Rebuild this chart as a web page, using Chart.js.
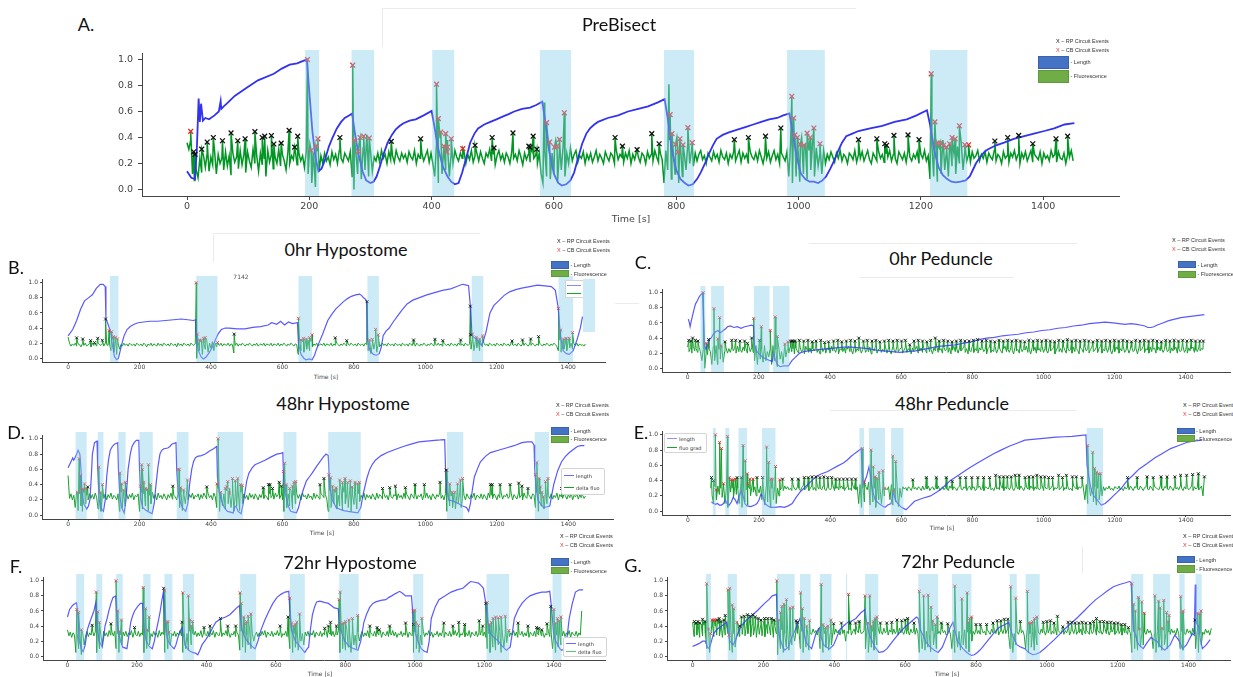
<!DOCTYPE html>
<html>
<head>
<meta charset="utf-8">
<script src="https://cdn.jsdelivr.net/npm/chart.js@4.4.0/dist/chart.umd.min.js"></script>
<style>
  body { margin: 0; width: 1233px; height: 677px; background: #fff; position: relative; overflow: hidden; font-family: Lato, sans-serif; }
  canvas { position: absolute; }
  .t { position: absolute; white-space: nowrap; transform: translate(-50%, -50%); color: #111; }
  .l { position: absolute; white-space: nowrap; transform: translate(0, -50%); color: #333; font-family: 'Liberation Sans', sans-serif; font-size: 5.5px; }
  .box { position: absolute; }
  .title { font-size: 18px; }
  .tx { font-family: 'DejaVu Sans', sans-serif; color: #444; }
</style>
</head>
<body>
<script>
// ===================== DATA =====================
const xTickVals = [0, 200, 400, 600, 800, 1000, 1200, 1400];
const yTickVals = [0, 0.2, 0.4, 0.6, 0.8, 1.0];

// ---------- A. PreBisect ----------
const aSpans = [[193,216],[269,306],[401,437],[577,628],[780,829],[981,1043],[1215,1276]];
const aLength = [[0,.14],[7,.09],[13,.08],[16,.3],[19,.7],[21,.52],[23,.66],[26,.53],[30,.55],[36,.54],[45,.57],[52,.6],[55,.68],[56,.62],[60,.64],[65,.66],[78,.72],[97,.78],[116,.84],[142,.89],[155,.93],[168,.96],[180,.97],[190,.99],[196,1],
  [200,.75],[205,.45],[210,.25],[215,.14],[220,.16],[225,.22],[232,.33],[238,.4],[245,.47],[252,.52],[258,.55],[265,.57],[270,.585],
  [274,.45],[280,.28],[287,.14],[293,.07],[300,.05],[305,.06],[310,.1],[315,.17],[322,.28],[328,.36],[335,.42],[341,.46],[348,.49],[354,.51],[364,.53],[374,.54],[387,.57],[400,.605],
  [404,.5],[410,.33],[418,.18],[426,.1],[432,.06],[438,.04],[444,.05],[450,.13],[457,.25],[463,.36],[470,.43],[476,.47],[486,.5],[496,.52],[506,.54],[516,.56],[526,.58],[535,.6],[548,.62],[561,.63],[571,.65],[581,.675],
  [585,.55],[592,.3],[600,.12],[607,.05],[613,.03],[620,.04],[627,.07],[633,.13],[640,.25],[646,.35],[653,.43],[659,.47],[666,.5],[672,.52],[688,.55],[705,.57],[721,.6],[738,.62],[754,.64],[770,.67],[781,.695],
  [786,.55],[793,.3],[800,.15],[807,.08],[814,.05],[820,.03],[827,.04],[834,.08],[840,.13],[847,.2],[853,.27],[860,.34],[866,.39],[876,.42],[886,.44],[900,.46],[913,.48],[926,.5],[939,.52],[952,.54],[965,.55],[975,.57],[985,.585],
  [990,.45],[997,.25],[1004,.12],[1011,.08],[1018,.06],[1025,.06],[1032,.05],[1039,.07],[1045,.1],[1052,.16],[1058,.22],[1065,.3],[1071,.36],[1078,.41],[1088,.43],[1098,.45],[1117,.47],[1137,.49],[1157,.52],[1177,.54],[1193,.57],[1210,.61],
  [1215,.5],[1222,.3],[1229,.17],[1236,.11],[1243,.08],[1250,.06],[1257,.055],[1265,.06],[1273,.07],[1280,.1],[1285,.15],[1290,.2],[1297,.25],[1304,.29],[1310,.31],[1323,.34],[1336,.36],[1352,.39],[1369,.41],[1385,.43],[1402,.45],[1418,.47],[1435,.5],[1451,.51]];
const aFluoStart = 0, aFluoStep = 3;
const aFluo = [.36,.31,.38,.12,.07,.15,.09,.24,.13,.26, .17,.28,.14,.25,.19,.3,.12,.27,.2,.24, .15,.29,.18,.26,.11,.28,.21,.25,.16,.3,
  .19,.27,.13,.29,.22,.17,.31,.2,.26,.14, .28,.19,.24,.1,.3,.21,.27,.16,.25,.2, .31,.18,.27,.22,.15,.29,.2,.26,.23,.3,
  .19,.28,.22,.26,.17,.29,.12,.35,.05,.28, .02,.3,.14,.26,.2,.28,.22,.25,.19,.29, .23,.27,.2,.3,.24,.21,.28,.25,.22,.29,
  .1,0,.3,.12,.38,.08,.32,.15,.42,.1, .3,.14,.25,.22,.28,.21,.3,.24,.27,.2, .29,.23,.26,.21,.3,.25,.22,.28,.24,.27,
  .21,.29,.25,.23,.3,.2,.27,.24,.28,.22, .26,.3,.21,.28,.2,.1,.35,.05,.4,.12, .32,.15,.38,.1,.28,.2,.3,.25,.22,.28,
  .24,.29,.2,.27,.23,.3,.21,.26,.28,.22, .29,.24,.2,.28,.25,.31,.22,.27,.19,.26, .3,.23,.27,.21,.28,.25,.2,.29,.24,.27,
  .22,.3,.25,.19,.28,.23,.27,.21,.29,.24, .26,.2,.28,.12,.05,.3,.1,.35,.08,.28, .12,.38,.06,.3,.15,.33,.1,.28,.2,.32,
  .22,.27,.3,.21,.26,.24,.29,.2,.27,.23, .28,.21,.25,.3,.22,.27,.24,.2,.29,.25, .22,.28,.26,.2,.3,.23,.27,.25,.21,.28,
  .24,.3,.2,.27,.23,.29,.25,.21,.28,.26, .2,.29,.24,.27,.22,.3,.25,.21,.28,.23, .05,.3,.15,.38,.08,.3,.12,.4,.05,.33,
  .1,.28,.15,.36,.2,.3,.18,.28,.22,.27, .3,.23,.26,.2,.28,.25,.22,.29,.24,.27, .21,.3,.25,.23,.28,.2,.27,.24,.29,.22,
  .26,.3,.21,.28,.24,.27,.2,.29,.25,.23, .28,.22,.3,.25,.2,.27,.24,.29,.21,.26, .3,.23,.27,.2,.28,.25,.22,.29,.1,.35,
  .05,.38,.1,.32,.06,.4,.12,.35,.08,.3, .15,.36,.1,.32,.18,.28,.12,.3,.2,.27, .23,.29,.25,.21,.28,.24,.3,.22,.27,.25,
  .2,.28,.26,.23,.3,.21,.27,.24,.29,.22, .26,.3,.23,.2,.28,.25,.22,.29,.24,.27, .21,.28,.25,.3,.22,.27,.24,.2,.29,.26,
  .23,.28,.21,.3,.25,.22,.27,.24,.29,.2, .27,.24,.3,.22,.26,.08,.35,.1,.4,.06, .32,.12,.38,.15,.3,.1,.35,.18,.28,.12,
  .33,.2,.36,.15,.3,.22,.27,.21,.29,.24, .26,.3,.22,.27,.24,.29,.21,.28,.25,.23, .3,.22,.27,.25,.2,.29,.24,.26,.21,.28,
  .25,.3,.23,.27,.2,.28,.24,.29,.22,.26, .3,.21,.27,.25,.23,.29,.2,.28,.24,.26, .22,.3,.25,.27,.21,.29,.24,.23,.28,.2,
  .27,.25,.3,.22];
const aPeaks = [[584,.67],[788,.81]];
const aRp = [[11,.29],[13,.27],[24,.31],[33,.365],[43,.4],[58,.375],[72,.435],[83,.375],[95,.39],[111,.445],[123,.4],[127,.41],[138,.415],[142,.35],[154,.357],[167,.455],[176,.326],[181,.41],[250,.4],[334,.37],[382,.39],[471,.34],[499,.4],[502,.32],[533,.435],[559,.334],[561,.326],[566,.41],[572,.31],[700,.4],[712,.334],[736,.306],[760,.43],[772,.352],[895,.383],[918,.4],[946,.41],[971,.473],[1098,.383],[1128,.39],[1141,.352],[1144,.34],[1156,.416],[1179,.42],[1197,.383],[1321,.373],[1342,.4],[1360,.416],[1383,.352],[1421,.39],[1440,.41]];
const aCb = [[6,.447],[197,1],[203,.3],[211,.334],[214,.39],[271,.956],[274,.378],[280,.293],[283,.4],[289,.41],[298,.396],[408,.81],[411,.545],[415,.442],[420,.334],[423,.43],[425,.288],[426,.326],[432,.39],[451,.314],[588,.514],[593,.365],[601,.326],[605,.334],[609,.386],[617,.59],[790,.576],[793,.43],[799,.347],[803,.288],[806,.39],[811,.344],[819,.476],[826,.36],[989,.717],[992,.55],[994,.42],[998,.4],[1003,.347],[1009,.34],[1014,.434],[1019,.4],[1025,.473],[1035,.352],[1217,.89],[1223,.52],[1227,.357],[1232,.357],[1237,.34],[1242,.326],[1247,.352],[1251,.4],[1256,.39],[1263,.49],[1272,.344],[1278,.344]];

// ---------- B. 0hr Hypostome ----------
const bSpans = [[117,141],[359,418],[645,683],[838,870],[1130,1162],[1373,1414]];
const bLength = [[0,.295],[13,.38],[24,.5],[35,.65],[46,.76],[57,.8],[68,.84],[79,.925],[90,.98],[98,.98],[104,.95],[106,.52],[112,.45],[119,.35],[125,.15],[130,.02],[136,-.02],[141,0],[146,.1],[151,.2],[157,.3],[165,.38],[174,.42],[185,.45],[196,.47],[212,.48],[229,.49],[250,.49],[273,.5],[295,.51],[317,.52],[335,.51],[351,.5],[357,.51],
  [359,.3],[365,.1],[372,.02],[379,-.01],[387,.02],[396,.08],[404,.15],[413,.25],[421,.33],[429,.38],[440,.4],[451,.4],[473,.39],[495,.39],[517,.41],[539,.42],[560,.44],[570,.47],[584,.45],[595,.49],[606,.44],[617,.48],[628,.46],[642,.47],
  [645,.2],[652,.05],[660,0],[666,-.02],[675,-.01],[683,-.02],[690,.04],[694,.1],[702,.2],[711,.3],[719,.4],[727,.5],[738,.58],[749,.65],[760,.7],[771,.75],[782,.79],[793,.82],[805,.84],[816,.85],[822,.83],[827,.8],[833,.78],[836,.75],
  [838,.25],[845,.1],[855,.05],[863,.04],[871,.06],[877,.15],[882,.3],[890,.36],[899,.4],[910,.48],[921,.55],[935,.64],[949,.72],[965,.77],[982,.8],[1004,.84],[1026,.87],[1048,.9],[1071,.92],[1088,.95],[1104,.98],[1115,.97],[1121,.96],
  [1126,.7],[1131,.3],[1138,.27],[1145,.25],[1152,.2],[1157,.17],[1162,.22],[1170,.35],[1181,.6],[1192,.7],[1203,.75],[1220,.83],[1236,.88],[1253,.91],[1270,.93],[1292,.95],[1314,.97],[1335,.96],[1353,.95],[1364,.9],
  [1372,.67],[1378,.3],[1386,.1],[1395,.06],[1403,.05],[1414,.1],[1425,.25],[1434,.4],[1440,.55]];
const bFluoStart = 0, bFluoStep = 4;
const bFluo = [.28,.2,.16,.19,.17,.2,.16,.19,.18,.15, .19,.17,.2,.16,.18,.19,.15,.2,.17,.19, .16,.2,.18,.17,.19,.16,.2,.18,.17,.19,
  .1,.25,.08,.22,.05,.2,.12,.18,.16,.2, .17,.19,.16,.2,.18,.17,.19,.16,.2,.18, .17,.19,.16,.2,.18,.15,.19,.17,.2,.16,
  .19,.18,.16,.2,.17,.19,.16,.2,.18,.17, .19,.16,.2,.18,.17,.19,.15,.2,.17,.19, .16,.2,.18,.17,.19,.16,.2,.18,.17,.19,
  0,.22,.1,.25,.05,.2,.12,.24,.08,.2, .13,.22,.1,.2,.15,.19,.17,.2,.16,.19, .18,.17,.2,.16,.19,.18,.07,.17,.2,.16,
  .19,.17,.2,.18,.16,.19,.17,.2,.18,.16, .19,.17,.2,.16,.18,.19,.17,.2,.16,.19, .18,.17,.2,.16,.19,.18,.17,.2,.16,.19,
  .17,.2,.18,.16,.19,.17,.2,.18,.16,.19, .18,.05,.24,.1,.22,.08,.2,.12,.24,.1, .22,.15,.19,.17,.2,.16,.18,.19,.17,.2,
  .16,.19,.18,.17,.2,.16,.19,.17,.2,.18, .16,.19,.17,.2,.18,.16,.19,.17,.2,.18, .17,.19,.16,.2,.18,.17,.19,.16,.2,.18,
  .1,.22,.06,.2,.12,.22,.08,.19,.15,.18, .2,.17,.19,.16,.2,.18,.17,.19,.16,.2, .18,.17,.19,.16,.2,.18,.17,.19,.16,.2,
  .18,.17,.19,.16,.2,.18,.16,.19,.17,.2, .18,.16,.19,.17,.2,.18,.16,.19,.17,.2, .17,.19,.16,.2,.18,.17,.19,.16,.2,.18,
  .17,.19,.16,.2,.18,.17,.19,.16,.2,.18, .17,.19,.12,.25,.1,.22,.14,.24,.1,.2, .15,.2,.17,.19,.16,.2,.18,.17,.19,.16,
  .2,.18,.17,.19,.16,.2,.18,.17,.19,.16, .2,.18,.17,.19,.16,.2,.18,.16,.19,.17, .2,.18,.16,.19,.17,.2,.18,.16,.19,.17,
  .2,.18,.16,.19,.17,.2,.18,.16,.19,.17, .2,.18,.16,.1,.24,.08,.22,.12,.2,.1, .22,.14,.2,.12,.19,.17,.2,.16,.19,.17,
  .18,.16,.19];
const bRp = [[24,.27],[41,.255],[63,.233],[74,.207],[83,.264],[96,.238],[105,.52],[465,.32],[748,.27],[780,.233],[837,.75],[967,.242],[1027,.25],[1049,.233],[1099,.242],[1126,.69],[1127,.31],[1243,.229],[1272,.242],[1295,.255],[1317,.286]];
const bCb = [[115,.366],[122,.352],[127,.286],[133,.278],[138,.255],[359,1],[362,.32],[368,.242],[373,.229],[379,.264],[384,.273],[418,.207],[645,.53],[652,.242],[659,.264],[667,.255],[676,.273],[683,.31],[844,.242],[852,.25],[861,.383],[868,.31],[1132,.32],[1143,.278],[1152,.255],[1160,.295],[1373,.66],[1379,.374],[1387,.255],[1394,.264],[1403,.264],[1412,.34]];

// ---------- C. 0hr Peduncle ----------
const cSpans = [[36,50],[66,102],[186,230],[240,286]];
const cLength = [[2,.65],[5,.6],[7,.55],[10,.62],[13,.68],[18,.78],[22,.85],[28,.9],[33,.95],[38,.98],[42,1],[45,.6],[47,.3],[52,.25],[56,.3],[60,.38],[66,.4],[72,.45],[78,.48],[85,.5],[92,.47],[100,.5],[106,.52],[112,.55],[120,.56],[130,.54],[140,.55],[150,.53],[160,.55],[170,.56],[180,.57],[185,.56],
  [188,.3],[195,.22],[203,.18],[212,.14],[222,.12],[232,.1],[238,.09],[242,.2],[246,.12],[252,.05],[260,.02],[270,.03],[283,.03],[293,.1],[304,.15],[315,.2],[326,.22],[340,.23],[357,.24],[373,.25],[395,.26],[417,.27],[440,.28],[462,.28],[485,.27],[507,.26],[530,.24],[551,.23],[573,.22],[596,.21],[618,.22],[640,.23],[662,.25],[684,.27],[706,.29],[729,.3],[751,.31],[773,.33],[796,.35],[818,.38],[840,.4],[862,.41],[885,.43],[907,.44],[929,.45],[951,.47],[973,.48],[995,.5],[1018,.51],[1040,.53],[1062,.54],[1084,.56],[1106,.57],[1129,.59],[1151,.6],[1173,.61],[1196,.6],[1212,.59],[1229,.58],[1246,.59],[1262,.58],[1275,.57],[1285,.56],[1293,.54],[1302,.54],[1310,.55],[1318,.57],[1335,.6],[1352,.63],[1369,.65],[1386,.67],[1402,.68],[1419,.69],[1436,.7],[1452,.71]];
const cFluoStart = 0, cFluoStep = 4;
const cFluo = [.28,.22,.27,.2,.29,.23,.26,.21,.28,.22, .1,.25,0,.2,.18,.26,.22,.05,.28,.1, .3,.05,.25,.12,.28,.08,.22,.27,.2,.26,
  .21,.28,.23,.26,.2,.29,.22,.25,.21,.28, .23,.26,.2,.29,.22,.27,.21,.1,.3,.05, .28,.12,.25,.08,.3,.1,.22,.15,.26,.05,
  .3,.1,.25,.02,.28,.12,.22,.06,.26,.15, .25,.2,.28,.22,.26,.19,.27,.23,.2,.28, .22,.25,.19,.29,.24,.21,.27,.2,.26,.23,
  .28,.21,.25,.19,.3,.22,.26,.2,.27,.24, .2,.29,.23,.25,.21,.28,.19,.26,.24,.22, .27,.2,.25,.29,.22,.24,.19,.28,.21,.26,
  .23,.27,.2,.25,.3,.21,.24,.22,.28,.19, .26,.23,.29,.2,.24,.27,.21,.25,.22,.28, .2,.26,.23,.19,.28,.24,.21,.29,.22,.25,
  .27,.2,.24,.28,.21,.26,.23,.19,.27,.22, .25,.29,.2,.23,.27,.21,.26,.24,.2,.28, .22,.25,.19,.27,.23,.29,.21,.24,.26,.2,
  .28,.23,.25,.21,.27,.19,.24,.29,.22,.26, .2,.27,.23,.25,.28,.21,.26,.19,.24,.22, .29,.21,.26,.23,.2,.27,.24,.28,.22,.25,
  .19,.26,.28,.21,.24,.22,.29,.2,.25,.27, .23,.2,.26,.29,.22,.25,.21,.27,.24,.19, .28,.23,.25,.2,.27,.22,.26,.24,.29,.21,
  .25,.19,.27,.23,.28,.2,.24,.26,.22,.29, .21,.26,.24,.2,.28,.23,.25,.27,.19,.24, .28,.22,.26,.21,.29,.24,.2,.27,.23,.25,
  .2,.28,.22,.26,.24,.19,.27,.25,.21,.29, .23,.26,.2,.25,.28,.22,.24,.27,.21,.26, .29,.2,.25,.23,.27,.21,.28,.24,.19,.26,
  .22,.28,.25,.2,.26,.23,.29,.21,.24,.27, .2,.25,.28,.22,.24,.26,.19,.27,.23,.25, .29,.21,.26,.24,.2,.28,.22,.25,.27,.2,
  .24,.28,.23,.26,.21,.25,.29,.22,.24,.2, .27,.23,.25,.28,.2,.26,.22,.24,.29,.21, .25,.2,.27,.23,.26,.28,.21,.24,.22,.27,
  .23,.26,.25];
const cRp = [[3,.37],[9,.36],[14,.4],[22,.37],[29,.36],[59,.38],[105,.35],[124,.37],[135,.37],[147,.36],[160,.36],[168,.33],[180,.4],[202,.37],
  [289,.36],[293,.36],[297,.36],[302,.36],[314,.37],[326,.36],[338,.37],[350,.35],[361,.36],[374,.37],[385,.34],[396,.35],[410,.36],[422,.37],[433,.35],[446,.36],[458,.37],[470,.36],[481,.4],[494,.36],[505,.37],[518,.36],[529,.37],[540,.35],[553,.36],[565,.37],[577,.36],[589,.37],[601,.36],[612,.37],[624,.31],[636,.36],[648,.37],[660,.36],[672,.35],[683,.37],[696,.4],[707,.36],[719,.37],[731,.36],[743,.35],[755,.36],[767,.37],[779,.36],[791,.36],[803,.37],[815,.38],[827,.36],[839,.37],[851,.36],[863,.35],[875,.37],[887,.36],[899,.37],[911,.36],[923,.37],[935,.36],[947,.35],[959,.37],[971,.36],[983,.37],[995,.36],[1007,.37],[1019,.36],[1031,.35],[1043,.37],[1055,.36],[1067,.38],[1079,.36],[1091,.37],[1103,.36],[1115,.37],[1127,.36],[1139,.35],[1151,.37],[1163,.36],[1175,.37],[1187,.36],[1199,.37],[1211,.36],[1223,.37],[1235,.36],[1247,.35],[1259,.37],[1271,.36],[1283,.37],[1295,.36],[1307,.37],[1319,.36],[1331,.35],[1343,.37],[1355,.36],[1367,.37],[1379,.36],[1391,.37],[1403,.36],[1415,.37],[1427,.36],[1439,.36],[1449,.36]];
const cCb = [[44,1],[52,.33],[74,.79],[85,.39],[90,.67],[94,.3],[186,.66],[207,.55],[232,.5],[246,.68],[252,.42],[273,.32],[282,.35]];

// ---------- D. 48hr Hypostome ----------
const dSpans = [[21,52],[83,99],[141,161],[200,237],[304,337],[418,490],[603,639],[728,819],[1060,1106],[1306,1346]];
const dLength = [[0,.62],[8,.7],[13,.75],[16,.72],[20,.76],[24,.8],[28,.85],[33,.8],[36,.6],[39,.3],[44,.15],[52,.08],[57,.12],[61,.2],[65,.5],[68,.8],[74,.95],[81,.97],[83,.6],[87,.2],[91,.1],[99,.05],[104,.2],[108,.5],[113,.72],[118,.85],[124,.9],[130,.93],[139,.95],
  [141,.6],[145,.25],[150,.1],[157,.03],[162,.2],[168,.6],[174,.8],[179,.9],[185,.95],[191,.98],[198,.98],[200,.6],[204,.2],[209,.1],[216,.07],[223,.05],[235,.02],[241,.15],[246,.4],[252,.65],[257,.8],[262,.85],[268,.87],[279,.88],[285,.9],[290,.93],[302,.95],
  [304,.6],[308,.3],[312,.2],[320,.1],[329,.05],[335,.15],[340,.4],[346,.6],[351,.7],[356,.75],[362,.77],[373,.78],[384,.8],[396,.84],[407,.87],[416,.9],[418,.5],[423,.3],[429,.2],[437,.1],[446,.05],[454,.04],[462,.03],[466,.1],[470,.12],[476,.05],[484,.02],[490,.15],[495,.3],[500,.45],[506,.55],[515,.62],[523,.66],[537,.69],[551,.72],[567,.76],[584,.8],[595,.81],[601,.82],
  [603,.5],[607,.3],[612,.2],[618,.1],[623,.05],[631,.04],[639,.03],[645,.1],[650,.2],[658,.33],[667,.45],[675,.5],[683,.55],[694,.63],[705,.7],[714,.76],[722,.8],[728,.78],[732,.4],[739,.2],[745,.15],[750,.1],[760,.08],[772,.06],[783,.05],[797,.04],[811,.03],[819,.1],[827,.3],[836,.48],[844,.6],[852,.67],[860,.72],[876,.78],[893,.82],[915,.86],[938,.9],[960,.93],[982,.96],[1004,.97],[1026,.98],[1042,.985],[1054,.99],
  [1057,.5],[1061,.3],[1065,.2],[1072,.19],[1080,.18],[1093,.15],[1104,.12],[1115,.1],[1121,.05],[1126,.15],[1132,.35],[1137,.5],[1145,.6],[1154,.7],[1168,.77],[1182,.82],[1204,.85],[1226,.88],[1248,.91],[1270,.95],[1285,.96],[1298,.96],[1304,.92],
  [1306,.6],[1310,.35],[1315,.2],[1323,.14],[1331,.1],[1340,.11],[1348,.12],[1353,.25],[1359,.4],[1370,.58],[1381,.7],[1392,.77],[1403,.82],[1414,.86],[1425,.9],[1435,.91],[1445,.91]];
const dFluoStart = 0, dFluoStep = 4;
const dFluo = [.52,.22,.28,.2,.26,.1,.3,.06,.28,.12, .05,.3,.15,.26,.2,.28,.22,.27,.21,.29, .23,.08,.3,.05,.25,.22,.28,.2,.27,.23,
  .29,.21,.26,.24,.2,.28,.05,.3,.1,.26, .12,.28,.21,.27,.23,.29,.2,.26,.24,.28, .05,.3,.08,.28,.12,.32,.06,.26,.15,.3,
  .22,.27,.2,.29,.23,.26,.21,.28,.24,.2, .27,.23,.29,.21,.26,.24,.2,.28,.1,.3, .06,.28,.15,.32,.2,.27,.23,.29,.21,.26,
  .24,.28,.2,.27,.22,.29,.25,.21,.28,.23, .26,.2,.29,.24,.1,.35,.05,.3,.12,.28, .08,.32,.15,.35,.1,.3,.05,.28,.12,.33,
  .06,.3,.15,.28,.22,.26,.2,.29,.23,.27, .21,.28,.24,.2,.27,.23,.29,.22,.26,.24, .2,.28,.23,.26,.21,.29,.24,.27,.22,.26,
  .2,.05,.3,.1,.28,.12,.32,.08,.26,.15, .28,.22,.27,.2,.29,.24,.26,.21,.28,.23, .25,.2,.29,.22,.27,.24,.21,.28,.26,.23,
  .27,.21,.05,.32,.1,.28,.15,.3,.08,.26, .12,.34,.06,.3,.15,.28,.1,.32,.05,.27, .14,.3,.08,.28,.18,.26,.22,.29,.2,.27,
  .23,.26,.21,.28,.24,.2,.29,.22,.27,.25, .21,.28,.23,.26,.2,.29,.24,.22,.27,.25, .2,.28,.23,.26,.21,.29,.22,.27,.24,.2,
  .28,.25,.22,.29,.21,.26,.24,.28,.2,.27, .23,.29,.22,.26,.2,.28,.25,.21,.27,.24, .29,.22,.26,.2,.28,.05,.3,.12,.25,.1,
  .28,.08,.26,.15,.3,.1,.22,.26,.2,.28, .24,.21,.27,.23,.29,.2,.26,.25,.22,.28, .21,.27,.24,.2,.29,.23,.26,.22,.28,.25,
  .2,.27,.23,.29,.21,.26,.24,.28,.22,.25, .29,.2,.27,.24,.21,.28,.23,.26,.2,.29, .24,.22,.27,.25,.21,.28,.26,.1,.3,.05,
  .28,.12,.25,.08,.3,.15,.26,.22,.28,.21, .26,.23,.29,.2,.27,.24,.22,.28,.25,.21, .27,.23,.29,.2,.26,.24,.28,.21,.27,.23,
  .26,.22,.25];
const dRp = [[55,.37],[293,.38],[388,.37],[546,.36],[561,.4],[565,.4],[572,.35],[591,.43],[597,.38],[705,.4],[716,.48],[880,.35],[900,.36],[916,.38],[944,.36],[971,.4],[997,.4],[1041,.43],[1058,.59],[1182,.4],[1187,.4],[1209,.4],[1237,.4],[1261,.42],[1270,.38],[1287,.35],[1381,.35],[1436,.37]];
const dCb = [[26,.3],[31,.74],[35,.52],[38,.34],[42,.34],[46,.41],[50,.35],[86,.63],[90,.3],[96,.4],[145,.55],[150,.41],[155,.33],[160,.43],[203,.38],[206,.66],[208,.6],[212,.43],[217,.35],[222,.34],[225,.66],[230,.4],[308,.6],[311,.6],[315,.36],[323,.33],[334,.46],[417,.41],[420,1],[427,.3],[440,.35],[444,.37],[447,.44],[452,.29],[460,.48],[468,.45],[475,.48],[482,.4],[487,.39],[603,.57],[606,.68],[610,.4],[620,.35],[628,.38],[632,.43],[637,.44],[730,.53],[735,.49],[740,.38],[745,.33],[750,.36],[760,.46],[768,.43],[775,.48],[782,.43],[790,.45],[795,.37],[803,.43],[810,.41],[815,.43],[1060,.59],[1068,.41],[1075,.3],[1082,.3],[1090,.41],[1098,.46],[1104,.48],[1308,.53],[1312,.69],[1318,.48],[1322,.37],[1326,.3],[1330,.24],[1336,.44],[1343,.48]];

// ---------- E. 48hr Peduncle ----------
const eSpans = [[70,78],[105,116],[142,166],[208,246],[482,495],[509,554],[571,606],[1121,1167]];
const eLength = [[66,.12],[72,.1],[78,.09],[83,.1],[88,.08],[94,.08],[100,.1],[105,.15],[110,.1],[116,.08],[122,.12],[127,.18],[133,.15],[138,.1],[144,.2],[150,.27],[155,.2],[160,.1],[166,.07],[177,.06],[188,.08],[194,.1],[200,.15],[205,.22],[210,.2],[216,.1],[224,.07],[232,.05],[245,.05],[260,.06],[271,.05],[282,.07],[293,.1],[304,.18],[315,.25],[326,.3],[337,.35],[348,.4],[360,.45],[371,.48],[382,.5],[393,.52],[404,.55],[420,.59],[437,.63],[448,.67],[459,.72],[470,.76],[482,.8],[487,.82],
  [490,.5],[493,.35],[497,.4],[502,.45],[509,.58],[515,.4],[520,.25],[526,.15],[537,.1],[546,.07],[554,.05],[562,.08],[571,.1],[577,.25],[583,.15],[590,.1],[600,.05],[609,.03],[613,.02],[620,.05],[637,.13],[660,.17],[682,.2],[700,.25],[715,.3],[726,.35],[737,.4],[754,.45],[770,.5],[792,.57],[814,.63],[836,.69],[858,.75],[880,.8],[903,.85],[925,.89],[947,.93],[969,.94],[991,.95],[1013,.96],[1035,.97],[1058,.975],[1080,.98],[1100,.99],[1119,1],
  [1122,.6],[1127,.45],[1133,.3],[1141,.2],[1150,.15],[1162,.08],[1173,.1],[1185,.15],[1196,.2],[1207,.25],[1218,.3],[1235,.4],[1251,.47],[1268,.55],[1290,.62],[1313,.7],[1335,.76],[1357,.82],[1380,.86],[1402,.9],[1424,.92],[1446,.93]];
const eFluoStart = 64, eFluoStep = 4;
const eFluo = [.3,.2,.1,.32,.15,.33,.22,.3,.18,.33, .1,.3,.05,.32,.25,.3,.18,.33,.22,.3, .1,.32,.05,.3,.12,.28,.08,.3,.2,.33,
  .25,.32,.2,.3,.24,.33,.15,.3,.08,.32, .12,.35,.05,.3,.15,.33,.1,.3,.2,.28, .31,.27,.33,.29,.32,.28,.3,.27,.33,.29,
  .28,.32,.3,.27,.31,.33,.28,.3,.32,.27, .3,.33,.28,.31,.27,.32,.29,.3,.28,.33, .29,.27,.32,.3,.28,.31,.33,.27,.3,.32,
  .28,.3,.33,.29,.27,.31,.32,.28,.3,.27, .33,.29,.28,.32,.1,.35,.05,.3,.12,.32, .28,.38,.08,.35,.12,.3,.05,.33,.15,.3,
  .1,.32,.2,.3,.28,.32,.15,.35,.08,.3, .12,.33,.06,.3,.18,.32,.29,.31,.27,.32, .3,.27,.33,.29,.31,.28,.32,.3,.27,.33,
  .28,.31,.29,.33,.27,.3,.32,.28,.31,.29, .33,.27,.3,.32,.28,.31,.29,.27,.33,.3, .28,.32,.3,.27,.31,.33,.29,.28,.32,.3,
  .27,.31,.33,.28,.3,.32,.27,.29,.31,.33, .28,.3,.27,.32,.31,.29,.33,.28,.3,.27, .32,.29,.31,.28,.33,.3,.27,.32,.29,.31,
  .28,.33,.3,.27,.31,.32,.29,.28,.33,.3, .27,.32,.31,.29,.28,.33,.3,.27,.32,.29, .31,.28,.3,.33,.27,.32,.29,.31,.28,.3,
  .33,.27,.31,.29,.32,.28,.3,.33,.27,.31, .29,.32,.28,.3,.27,.33,.31,.29,.28,.32, .3,.33,.29,.15,.35,.1,.33,.2,.3,.12,
  .32,.08,.3,.15,.28,.2,.32,.27,.31,.29, .33,.28,.3,.27,.32,.31,.29,.33,.28,.3, .27,.32,.29,.31,.28,.33,.3,.27,.32,.31,
  .29,.28,.33,.3,.27,.31,.32,.29,.28,.33, .3,.27,.32,.31,.29,.28,.33,.3,.27,.32, .31,.29,.28,.33,.3,.27,.32,.29,.31,.28,
  .33,.3,.27,.32,.29,.31,.28,.3,.33,.27, .32,.29,.31,.28,.3,.33,.2];
const eRp = [[66,.44],[72,.4],[138,.44],[150,.44],[194,.44],[210,.44],[266,.42],[293,.42],[310,.42],[327,.44],[338,.44],[349,.45],[360,.45],[371,.44],[382,.45],[393,.44],[404,.44],[415,.42],[426,.42],[437,.42],[448,.42],[460,.42],[471,.42],[632,.41],[670,.44],[698,.44],[726,.44],[743,.39],[765,.44],[781,.44],[798,.44],[815,.44],[831,.44],[848,.44],[865,.47],[876,.45],[887,.45],[898,.45],[909,.45],[920,.47],[931,.47],[948,.44],[959,.45],[970,.45],[981,.47],[992,.45],[1003,.45],[1014,.44],[1025,.44],[1042,.47],[1053,.44],[1064,.47],[1081,.45],[1092,.45],[1108,.44],[1236,.44],[1263,.44],[1291,.45],[1308,.44],[1330,.45],[1347,.45],[1369,.45],[1385,.47],[1402,.47],[1419,.48],[1435,.49],[1452,.45]];
const eCb = [[77,1],[79,.28],[89,.9],[94,.82],[100,.36],[111,.98],[116,.44],[122,.41],[127,.41],[133,.42],[155,.86],[161,.66],[166,.49],[168,.36],[174,.42],[183,.42],[221,.84],[227,.64],[233,.42],[238,.42],[246,.585],[258,.41],[490,.82],[496,.38],[515,.8],[521,.58],[526,.45],[532,.43],[537,.51],[548,.53],[552,.3],[576,.72],[578,.26],[584,.65],[1124,.86],[1138,.77],[1143,.56],[1149,.51],[1155,.49],[1160,.49]];

// ---------- F. 72hr Hypostome ----------
const fSpans = [[25,48],[83,100],[140,159],[218,239],[279,302],[332,364],[497,543],[640,683],[782,838],[995,1024],[1206,1271],[1396,1422]];
const fLength = [[0,.52],[6,.62],[11,.65],[16,.68],[22,.7],[26,.71],[29,.6],[31,.5],[34,.2],[40,.1],[45,.06],[51,.15],[57,.35],[62,.42],[68,.5],[76,.6],[82,.72],[84,.5],[88,.3],[91,.2],[100,.12],[104,.25],[108,.4],[114,.5],[119,.6],[125,.7],[131,.78],[139,.8],
  [141,.6],[144,.4],[148,.3],[154,.18],[159,.12],[171,.1],[176,.25],[182,.45],[187,.53],[193,.6],[202,.66],[210,.7],[216,.7],[219,.5],[222,.3],[227,.2],[235,.13],[244,.1],[250,.2],[256,.35],[262,.48],[267,.6],[272,.75],[276,.85],
  [279,.6],[284,.3],[290,.2],[296,.15],[302,.12],[307,.1],[312,.15],[318,.25],[324,.33],[330,.38],[333,.3],[338,.15],[345,.1],[352,.07],[360,.05],[369,.04],[375,.02],[381,.08],[387,.15],[398,.22],[409,.3],[418,.38],[427,.45],[436,.48],[444,.5],[455,.52],[467,.55],[478,.6],[489,.65],[495,.67],
  [498,.5],[502,.35],[506,.3],[514,.22],[523,.17],[531,.13],[540,.1],[548,.2],[557,.35],[568,.48],[580,.6],[591,.7],[603,.78],[614,.82],[626,.85],[637,.86],[640,.6],[644,.4],[648,.3],[656,.2],[665,.15],[674,.1],[683,.05],[690,.1],[694,.12],[699,.35],[705,.55],[711,.65],[717,.72],[726,.73],[734,.72],[742,.71],[751,.7],[760,.67],[768,.64],[779,.63],
  [782,.5],[786,.35],[790,.3],[798,.2],[807,.15],[815,.12],[824,.1],[836,.08],[844,.2],[853,.45],[861,.56],[870,.65],[879,.7],[887,.72],[902,.74],[916,.75],[925,.78],[933,.8],[944,.83],[956,.86],[965,.83],[973,.8],[982,.8],[990,.8],
  [995,.5],[1001,.3],[1010,.18],[1018,.1],[1026,.07],[1035,.05],[1041,.2],[1047,.5],[1058,.65],[1069,.75],[1087,.8],[1104,.85],[1121,.88],[1138,.9],[1150,.95],[1160,.99],[1172,.98],[1183,.97],[1192,.93],[1197,.9],[1204,.7],[1210,.45],[1217,.3],[1228,.25],[1240,.2],[1252,.13],[1263,.08],[1274,.12],[1280,.3],[1286,.5],[1297,.62],[1308,.7],[1320,.76],[1331,.8],[1348,.83],[1365,.85],[1377,.85],[1388,.86],
  [1394,.6],[1399,.3],[1405,.2],[1411,.15],[1417,.1],[1422,.08],[1433,.1],[1439,.3],[1444,.5],[1453,.7],[1462,.85],[1473,.88],[1484,.88]];
const fFluoStart = 0, fFluoStep = 4;
const fFluo = [.35,.27,.32,.25,.31,.28,.05,.3,.1,.28, .02,.3,.15,.27,.33,.26,.31,.28,.34,.27, .32,.05,.3,.1,.28,.15,.33,.27,.31,.26,
  .34,.28,.32,.27,.33,.1,.3,.05,.28,.15, .32,.27,.33,.26,.31,.28,.34,.25,.32,.29, .27,.33,.26,.31,.28,.05,.3,.1,.32,.15,
  .3,.26,.33,.28,.31,.25,.34,.27,.32,.29, .05,.32,.1,.28,.15,.3,.27,.33,.26,.31, .28,.34,.27,.05,.32,.1,.3,.08,.33,.15,
  .3,.28,.33,.26,.31,.27,.34,.25,.32,.29, .27,.33,.26,.31,.28,.34,.25,.32,.29,.27, .33,.26,.31,.28,.34,.27,.32,.25,.3,.28,
  .33,.26,.31,.28,.08,.33,.12,.3,.05,.28, .15,.35,.1,.3,.2,.28,.32,.26,.31,.27, .33,.28,.34,.25,.32,.29,.27,.33,.26,.31,
  .28,.34,.27,.32,.25,.3,.28,.33,.26,.31, .1,.33,.05,.3,.12,.35,.08,.28,.2,.3, .15,.32,.27,.33,.26,.31,.28,.34,.25,.32,
  .29,.27,.33,.26,.31,.28,.34,.25,.32,.29, .27,.33,.26,.31,.28,.34,.05,.32,.1,.28, .08,.35,.12,.3,.05,.33,.15,.28,.1,.32,
  .2,.28,.33,.26,.31,.27,.34,.25,.32,.29, .27,.33,.26,.31,.28,.34,.25,.32,.29,.27, .33,.26,.31,.28,.34,.27,.32,.25,.3,.28,
  .33,.26,.31,.28,.34,.25,.32,.29,.27,.05, .32,.1,.3,.05,.28,.15,.33,.26,.31,.28, .34,.27,.32,.25,.3,.28,.33,.26,.31,.27,
  .34,.25,.32,.29,.27,.33,.26,.31,.28,.34, .27,.32,.25,.3,.28,.33,.26,.31,.27,.34, .25,.32,.29,.27,.33,.26,.31,.28,.34,.27,
  .32,.25,.1,.3,.05,.32,.12,.28,.08,.3, .15,.33,.05,.28,.12,.3,.18,.32,.26,.31, .28,.34,.27,.32,.25,.3,.28,.33,.26,.31,
  .27,.34,.25,.32,.29,.27,.33,.26,.31,.28, .34,.27,.32,.25,.3,.28,.33,.26,.31,.1, .3,.05,.28,.12,.32,.15,.27,.33,.26,.31,
  .28,.34,.25,.32,.29,.27,.33,.26,.31,.28, .6];
const fRp = [[71,.41],[125,.43],[193,.38],[277,.9],[330,.45],[393,.38],[410,.4],[440,.5],[461,.4],[484,.4],[612,.4],[635,.52],[740,.37],[751,.4],[757,.45],[774,.4],[870,.4],[891,.38],[897,.35],[927,.4],[973,.44],[996,.42],[1083,.44],[1109,.4],[1126,.45],[1143,.42],[1185,.47],[1195,.4],[1204,.7],[1297,.44],[1325,.4],[1350,.38],[1356,.37],[1365,.35],[1380,.43],[1391,.66]];
const fCb = [[27,.62],[32,.58],[40,.35],[83,.85],[87,.59],[92,.45],[140,1],[145,.6],[150,.33],[155,.48],[218,.91],[225,.63],[230,.35],[235,.52],[280,.87],[285,.45],[289,.46],[292,.32],[332,.84],[348,.8],[352,.48],[356,.4],[360,.46],[497,.84],[500,.7],[507,.52],[510,.43],[515,.46],[520,.53],[528,.56],[640,.77],[645,.44],[650,.4],[655,.42],[660,.45],[668,.56],[782,.75],[785,.85],[790,.43],[795,.44],[800,.46],[810,.48],[820,.5],[835,.54],[995,.6],[999,.61],[1003,.45],[1010,.41],[1020,.5],[1208,.71],[1215,.42],[1220,.45],[1225,.5],[1232,.52],[1240,.51],[1248,.52],[1260,.53],[1270,.34],[1400,.62],[1405,.44],[1410,.5],[1415,.47],[1420,.52]];

// ---------- G. 72hr Peduncle ----------
const gSpans = [[38,52],[99,125],[238,288],[303,333],[359,392],[433,436],[487,524],[637,693],[732,787],[895,915],[940,980],[1238,1272],[1300,1348],[1374,1389],[1420,1437]];
const gLength = [[0,.13],[10,.15],[19,.17],[28,.2],[36,.2],[42,.12],[47,.1],[52,.18],[59,.3],[70,.36],[82,.4],[90,.43],[97,.45],[100,.35],[105,.2],[114,.15],[120,.2],[128,.3],[137,.4],[150,.47],[170,.55],[186,.62],[203,.7],[215,.75],[225,.8],[237,.82],
  [240,.5],[244,.3],[249,.2],[255,.12],[260,.08],[270,.12],[280,.25],[290,.35],[298,.45],[303,.5],[308,.4],[314,.3],[320,.2],[325,.15],[336,.1],[342,.2],[348,.3],[355,.36],[359,.38],[363,.25],[370,.15],[378,.12],[387,.1],[398,.15],[407,.25],[415,.35],[426,.4],[438,.45],[450,.47],[461,.5],[470,.55],[476,.58],[487,.62],
  [491,.45],[498,.3],[507,.2],[515,.12],[526,.05],[538,.06],[549,.1],[565,.2],[582,.3],[598,.38],[615,.45],[632,.52],[637,.5],[643,.35],[648,.3],[660,.18],[671,.12],[682,.08],[693,.05],[705,.12],[716,.25],[727,.38],[735,.45],[740,.35],[748,.2],[755,.15],[763,.1],[772,.06],[780,.03],[787,.01],[795,.02],[804,.05],[815,.1],[832,.2],[849,.3],[865,.38],[882,.42],[893,.45],
  [898,.35],[905,.25],[916,.15],[927,.12],[938,.1],[949,.05],[960,.02],[970,.03],[980,.05],[993,.1],[1005,.15],[1021,.22],[1038,.3],[1055,.38],[1072,.45],[1088,.52],[1105,.6],[1122,.68],[1138,.75],[1155,.81],[1172,.87],[1188,.92],[1205,.95],[1220,.97],[1233,.99],[1238,.98],
  [1241,.6],[1245,.35],[1249,.3],[1255,.2],[1260,.15],[1272,.1],[1283,.18],[1294,.25],[1302,.22],[1311,.2],[1322,.12],[1333,.08],[1348,.15],[1361,.28],[1368,.24],[1374,.2],[1383,.1],[1394,.15],[1405,.25],[1411,.3],[1416,.28],[1419,.95],[1421,.45],[1428,.4],[1434,.2],[1439,.1],[1450,.15],[1461,.22]];
const gFluoStart = 0, gFluoStep = 4;
const gFluo = [.45,.26,.42,.28,.4,.25,.43,.27,.41,.3, .1,.35,.05,.3,.42,.26,.4,.28,.43,.27, .41,.25,.44,.28,.4,.3,.08,.35,.05,.3,
  .12,.28,.42,.26,.4,.29,.43,.27,.41,.3, .44,.26,.42,.28,.4,.25,.43,.29,.41,.27, .44,.26,.42,.3,.4,.28,.43,.25,.41,.3,
  .02,.33,.1,.35,.05,.3,.12,.36,.08,.3, .15,.32,.2,.34,.3,.36,.1,.33,.05,.3, .12,.35,.08,.3,.29,.36,.31,.34,.28,.37,
  .1,.35,.05,.3,.12,.33,.08,.3,.15,.32, .29,.36,.31,.34,.28,.37,.3,.35,.2,.33, .3,.35,.28,.33,.36,.29,.34,.31,.37,.3,
  .31,.34,.1,.35,.05,.3,.12,.33,.08,.3, .15,.36,.3,.33,.29,.37,.31,.34,.28,.35, .32,.29,.36,.3,.34,.28,.37,.31,.33,.29,
  .35,.3,.34,.28,.36,.31,.33,.29,.37,.3, .05,.35,.1,.3,.08,.33,.12,.3,.06,.34, .15,.32,.1,.3,.33,.29,.36,.31,.34,.28,
  .3,.35,.29,.1,.35,.05,.3,.12,.33,.08, .3,.15,.35,.1,.32,.06,.3,.2,.33,.29, .36,.3,.34,.29,.37,.31,.33,.28,.35,.32,
  .29,.36,.31,.34,.3,.37,.28,.33,.35,.3, .37,.3,.35,.29,.1,.33,.05,.3,.15,.32, .29,.36,.31,.34,.28,.1,.35,.05,.3,.12,
  .33,.08,.3,.15,.32,.29,.36,.31,.34,.28, .35,.31,.37,.29,.33,.3,.36,.28,.34,.32, .3,.36,.29,.34,.31,.37,.28,.33,.35,.3,
  .37,.29,.33,.31,.36,.28,.35,.3,.34,.32, .29,.36,.3,.33,.37,.28,.34,.31,.35,.29, .33,.37,.3,.35,.28,.34,.32,.36,.29,.31,
  .36,.3,.34,.28,.37,.31,.33,.29,.35,.3, .05,.33,.1,.3,.08,.35,.12,.3,.15,.32, .29,.36,.31,.34,.28,.1,.3,.05,.33,.12,
  .3,.08,.35,.15,.3,.1,.32,.29,.36,.31, .34,.28,.37,.3,.1,.33,.08,.3,.29,.36, .31,.34,.28,.37,.3,.1,.33,.05,.3,.15,
  .32,.29,.36,.31,.34,.28,.37];
const gRp = [[5,.46],[10,.44],[15,.46],[20,.44],[28,.49],[35,.46],[70,.48],[75,.5],[80,.46],[88,.48],[92,.54],[133,.4],[138,.52],[146,.53],[155,.55],[163,.53],[170,.55],[177,.52],[185,.5],[193,.48],[203,.5],[212,.5],[222,.5],[230,.48],[292,.47],[296,.45],[398,.43],[420,.44],[445,.44],[460,.44],[470,.46],[530,.44],[548,.44],[562,.45],[577,.48],[590,.47],[600,.48],[607,.5],[625,.44],[702,.44],[720,.43],[800,.42],[812,.42],[830,.42],[848,.44],[860,.47],[870,.47],[880,.49],[890,.49],[925,.46],[990,.45],[1000,.46],[1010,.47],[1020,.44],[1030,.53],[1045,.39],[1060,.45],[1070,.45],[1080,.44],[1090,.44],[1100,.45],[1110,.44],[1122,.44],[1132,.46],[1140,.5],[1150,.46],[1160,.46],[1170,.45],[1180,.45],[1190,.44],[1200,.44],[1210,.42],[1220,.42],[1230,.38],[1418,.48]];
const gCb = [[40,.96],[45,.36],[50,.3],[55,.48],[60,.48],[65,.48],[100,.88],[103,.28],[105,.9],[112,.68],[116,.63],[125,.45],[238,1],[243,.48],[248,.58],[252,.66],[258,.69],[265,.75],[275,.64],[283,.65],[305,.84],[310,.63],[315,.5],[322,.4],[330,.47],[363,.95],[368,.42],[375,.38],[382,.4],[390,.48],[440,.82],[487,.8],[495,.44],[500,.8],[505,.4],[510,.46],[515,.5],[520,.52],[640,.86],[652,.8],[665,.81],[673,.65],[678,.47],[685,.42],[690,.52],[740,.93],[760,.76],[775,.84],[778,.45],[782,.5],[787,.52],[898,.92],[912,.77],[945,.86],[950,.44],[955,.44],[960,.46],[965,.5],[972,.52],[1240,.96],[1245,.69],[1250,.6],[1258,.78],[1262,.36],[1268,.72],[1275,.57],[1305,.8],[1315,.73],[1320,.64],[1325,.37],[1330,.74],[1338,.58],[1342,.46],[1345,.54],[1378,.79],[1382,.58],[1385,.6],[1425,.57],[1430,.56],[1435,.6]];

// ===================== LAYOUT / DRAWING =====================
Chart.defaults.font.family = 'DejaVu Sans';
Chart.defaults.color = '#444';

// shaded contraction windows, drawn over the lines like axvspan
const spanPlugin = {
  id: 'spans',
  afterDatasetsDraw(chart, args, opts) {
    const { ctx, chartArea: a, scales: { x } } = chart;
    ctx.save();
    ctx.beginPath();
    ctx.rect(a.left, a.top - 3, a.right - a.left, a.bottom - a.top + 3);
    ctx.clip();
    ctx.fillStyle = 'rgba(135,206,235,0.42)';
    (opts.list || []).forEach(([s, e]) => {
      const x0 = x.getPixelForValue(s), x1 = x.getPixelForValue(e);
      ctx.fillRect(x0, a.top - 3, x1 - x0, a.bottom - a.top + 3);
    });
    ctx.restore();
  }
};

const pts = (arr) => arr.map(([x, y]) => ({ x, y }));

function fluoPoints(base, start, step, extra) {
  const out = base.map((v, i) => ({ x: start + i * step, y: v }));
  extra.forEach(([x, y]) => out.push({ x, y }));
  out.sort((p, q) => p.x - q.x);
  return out;
}

function makePanel(d, lay) {
  const big = !!lay.big;
  const yW = big ? 45 : 24, xH = big ? 20 : 10, padT = big ? 12 : 8, padR = 6;
  const [L, T, R, B] = lay.box.map(Math.round);
  const w = R - L + yW + padR, h = B - T + padT + xH;
  const cv = document.createElement('canvas');
  cv.width = w; cv.height = h;
  cv.style.left = (L - yW) + 'px';
  cv.style.top = (T - padT) + 'px';
  cv.style.width = w + 'px';
  cv.style.height = h + 'px';
  document.body.appendChild(cv);

  const fs = big ? 9.5 : 6;
  const mr = big ? 3.4 : 2.1;
  const mw = big ? 1.3 : 0.9;
  const blue = big ? 'rgb(50,50,240)' : 'rgba(60,60,255,0.85)';
  const green = big ? 'rgb(0,150,35)' : 'rgb(25,160,45)';
  const fluo = fluoPoints(d.fluo, d.f0, d.fStep, [...d.rp, ...d.cb, ...(d.peaks || [])]);

  new Chart(cv.getContext('2d'), {
    type: 'line',
    data: {
      datasets: [
        { data: pts(d.rp), showLine: false, pointStyle: 'crossRot', pointRadius: mr, pointBorderColor: '#111', pointBorderWidth: mw },
        { data: pts(d.cb), showLine: false, pointStyle: 'crossRot', pointRadius: mr, pointBorderColor: 'rgb(235,40,40)', pointBorderWidth: mw },
        { data: pts(d.len), borderColor: blue, borderWidth: big ? 1.8 : 1.2, pointRadius: 0, tension: 0 },
        { data: fluo, borderColor: green, borderWidth: big ? 1.5 : 1.0, pointRadius: 0, tension: 0 },
      ],
    },
    options: {
      responsive: false,
      animation: false,
      devicePixelRatio: 1,
      events: [],
      layout: { padding: { top: padT, right: padR, left: 0, bottom: 0 } },
      plugins: { legend: { display: false }, tooltip: { enabled: false }, spans: { list: d.spans } },
      scales: {
        x: {
          type: 'linear', min: lay.xMin, max: lay.xMax,
          border: { display: true, color: '#444', width: 1 },
          grid: { display: true, drawOnChartArea: false, drawTicks: true, tickLength: big ? 4 : 2, color: '#444' },
          ticks: { font: { size: fs }, color: '#444', padding: big ? 1 : 0, maxRotation: 0, autoSkip: false, callback: (v) => String(v) },
          afterBuildTicks: (s) => { s.ticks = xTickVals.map((v) => ({ value: v })); },
          afterFit: (s) => { s.height = xH; },
        },
        y: {
          min: -0.05, max: 1.05,
          border: { display: true, color: '#444', width: 1 },
          grid: { display: true, drawOnChartArea: false, drawTicks: true, tickLength: big ? 4 : 2, color: '#444' },
          ticks: { font: { size: fs }, color: '#444', padding: big ? 5 : 2, callback: (v) => Number(v).toFixed(1) },
          afterBuildTicks: (s) => { s.ticks = yTickVals.map((v) => ({ value: v })); },
          afterFit: (s) => { s.width = yW; },
        },
      },
    },
    plugins: [spanPlugin],
  });
}

makePanel({ len: aLength, fluo: aFluo, f0: aFluoStart, fStep: aFluoStep, peaks: aPeaks, rp: aRp, cb: aCb, spans: aSpans },
  { box: [142, 53, 1119, 196], xMin: -73.6, xMax: 1524, big: true });
makePanel({ len: bLength, fluo: bFluo, f0: bFluoStart, fStep: bFluoStep, rp: bRp, cb: bCb, spans: bSpans },
  { box: [42, 279, 605, 362], xMin: -73, xMax: 1503 });
makePanel({ len: cLength, fluo: cFluo, f0: cFluoStart, fStep: cFluoStep, rp: cRp, cb: cCb, spans: cSpans },
  { box: [662, 289, 1230, 372], xMin: -72, xMax: 1524 });
makePanel({ len: dLength, fluo: dFluo, f0: dFluoStart, fStep: dFluoStep, rp: dRp, cb: dCb, spans: dSpans },
  { box: [42, 435, 613, 519], xMin: -73, xMax: 1525 });
makePanel({ len: eLength, fluo: eFluo, f0: eFluoStart, fStep: eFluoStep, rp: eRp, cb: eCb, spans: eSpans },
  { box: [662, 431, 1230, 515], xMin: -73, xMax: 1524 });
makePanel({ len: fLength, fluo: fFluo, f0: fFluoStart, fStep: fFluoStep, rp: fRp, cb: fCb, spans: fSpans },
  { box: [43, 577, 605, 660], xMin: -70.5, xMax: 1547 });
makePanel({ len: gLength, fluo: gFluo, f0: gFluoStart, fStep: gFluoStep, rp: gRp, cb: gCb, spans: gSpans },
  { box: [667, 577, 1230, 660], xMin: -72.3, xMax: 1517 });

// ---------- texts ----------
function addText(html, x, y, cls, css) {
  const el = document.createElement('div');
  el.className = cls;
  el.innerHTML = html;
  el.style.left = x + 'px';
  el.style.top = y + 'px';
  if (css) Object.assign(el.style, css);
  document.body.appendChild(el);
  return el;
}
function addBox(x, y, w, h, css) {
  const el = document.createElement('div');
  el.className = 'box';
  Object.assign(el.style, { left: x + 'px', top: y + 'px', width: w + 'px', height: h + 'px' }, css);
  document.body.appendChild(el);
  return el;
}

// faint edges of pasted boxes
[[382, 8, 474, 1], [382, 8, 1, 39], [213, 233, 267, 1], [213, 233, 1, 29], [809, 243, 268, 1], [860, 277, 154, 1], [615, 303, 24, 1], [830, 410, 246, 1], [1082, 547, 1, 26]]
  .forEach(([x, y, w, h]) => addBox(x, y, w, h, { background: '#ebebeb' }));

// panel letters and titles
[['A.', 86, 24], ['B.', 16, 267], ['C.', 643, 262], ['D.', 16, 432], ['E.', 641, 432], ['F.', 16, 566], ['G.', 633, 565]]
  .forEach(([s, x, y]) => addText(s, x, y, 't title'));
[['PreBisect', 619, 24], ['0hr Hypostome', 346, 249], ['0hr Peduncle', 941, 258], ['48hr Hypostome', 343, 403],
 ['48hr Peduncle', 952, 403], ['72hr Hypostome', 350, 562], ['72hr Peduncle', 958, 561]]
  .forEach(([s, x, y]) => addText(s, x, y, 't title'));

// axis titles
addText('Time [s]', 631, 218, 't tx', { fontSize: '9.5px' });
[[326, 376], [322, 532], [942, 527], [320, 673], [947, 673]]
  .forEach(([x, y]) => addText('Time [s]', x, y, 't tx', { fontSize: '6px' }));
addText('7142', 241, 276, 't tx', { fontSize: '6px', color: '#555' });

// event / trace legends
function eventLegend(tx, ty, bx, bw, by1, bh1, by2, bh2) {
  addText('<span style="color:#111">X</span> – RP Circuit Events', tx, ty, 'l');
  addText('<span style="color:#e83030">X</span> – CB Circuit Events', tx, ty + 8.5, 'l');
  addBox(bx, by1, bw, bh1, { background: '#4472C4', boxShadow: 'inset 0 0 0 1px #3a62a8' });
  addBox(bx, by2, bw, bh2, { background: '#70AD47', boxShadow: 'inset 0 0 0 1px #5f9a3a' });
  addText('- Length', bx + bw + 1.5, by1 + bh1 / 2, 'l');
  addText('- Fluorescence', bx + bw + 1.5, by2 + bh2 / 2, 'l');
}
eventLegend(1056, 41, 1038, 31, 56, 12.5, 70, 12.5);
eventLegend(557, 241, 551, 18, 261, 7.5, 270, 7);
eventLegend(1172, 240, 1178, 18, 261, 7, 271, 6.5);
eventLegend(556, 405, 551, 18, 427, 7.5, 436, 6.5);
eventLegend(1183, 405, 1177, 17.5, 428, 6, 435, 7);
eventLegend(560, 536, 551, 18, 558, 7.5, 567, 7);
eventLegend(1183, 536, 1177, 17.5, 556, 7, 565, 7.5);

// small matplotlib legends
function lineLegend(x, y, w, h, items) {
  addBox(x, y, w, h, { background: '#fff', border: '1px solid #d4d4d4', borderRadius: '2px', boxSizing: 'border-box' });
  items.forEach(([label, color, yy]) => {
    addBox(x + 3, yy, 10, 1.2, { background: color });
    addText(label, x + 15, yy + 0.5, 'l', { fontFamily: 'DejaVu Sans, sans-serif', fontSize: '5px', color: '#333' });
  });
}
lineLegend(561, 468, 44, 27, [['length', 'rgba(70,70,255,0.8)', 475], ['delta fluo', 'rgb(25,160,45)', 487]]);
lineLegend(664, 433, 43, 20, [['length', 'rgba(110,110,255,0.75)', 438], ['fluo grad', 'rgb(25,160,45)', 447]]);
lineLegend(563, 637, 44, 20, [['length', 'rgba(70,70,255,0.8)', 643], ['delta fluo', 'rgba(60,180,80,0.8)', 651]]);
// partial legend and shaded patch left over at the right of B
addBox(565, 280, 20, 18, { background: '#fff', border: '1px solid #d4d4d4', boxSizing: 'border-box' });
addBox(567, 285, 14, 1.2, { background: 'rgba(90,90,255,0.7)' });
addBox(567, 292.5, 14, 1.2, { background: 'rgb(25,160,45)' });
addBox(583, 279, 12, 53, { background: 'rgb(205,235,247)' });
</script>
</body>
</html>
